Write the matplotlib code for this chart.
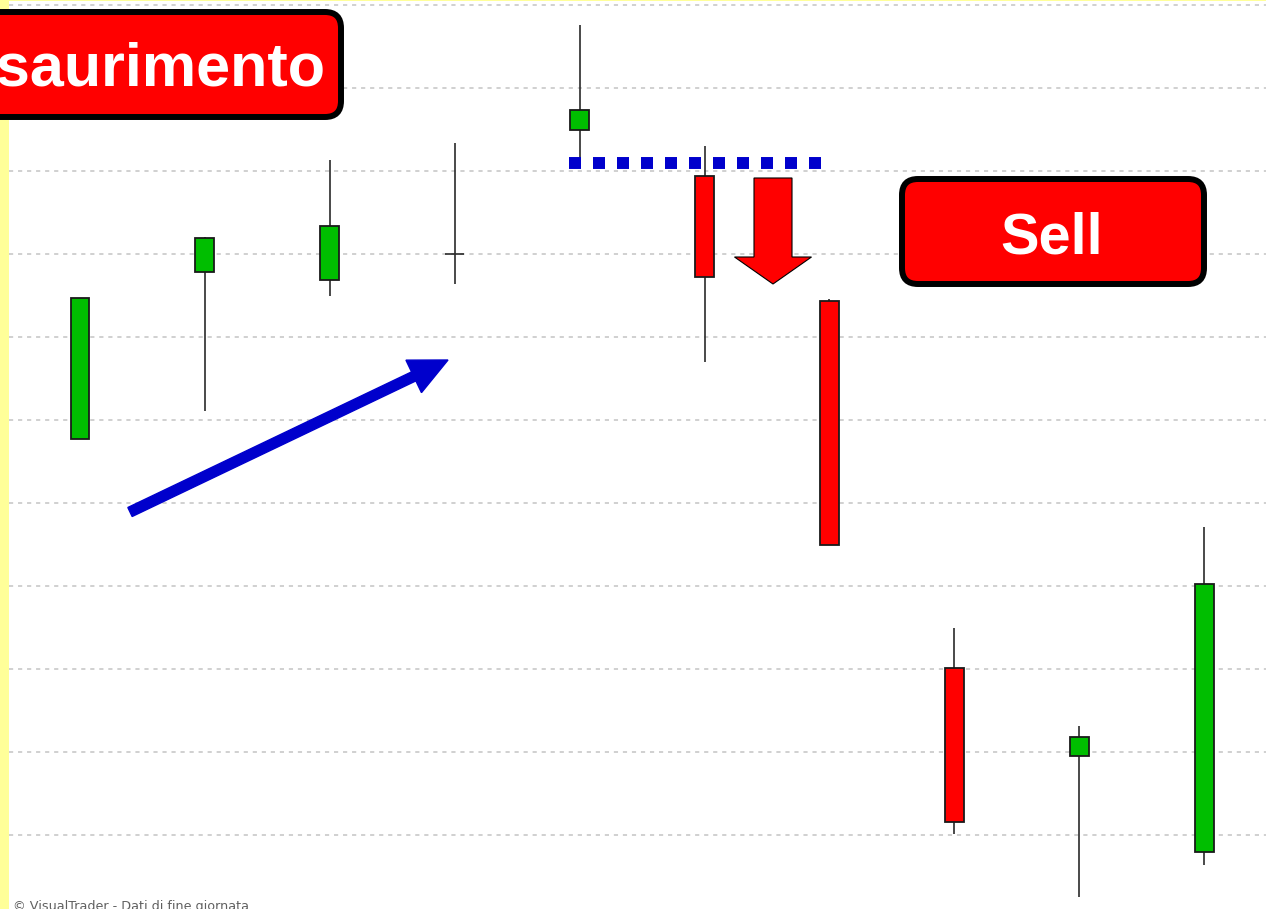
import matplotlib
matplotlib.use("Agg")
import matplotlib.pyplot as plt
from matplotlib.patches import FancyBboxPatch, FancyArrow

plt.rcParams["lines.scale_dashes"] = False
plt.rcParams["font.family"] = ["Liberation Sans", "DejaVu Sans"]

# Dati delle candele (unità = linee della griglia)
giorni = list(range(10))
aperture = [4.77, 6.78, 6.69, 7.00, 8.49, 7.94, 6.43, 2.01, 0.95, -0.20]
chiusure = [6.47, 7.19, 7.34, 7.00, 8.73, 6.72, 3.49, 0.16, 1.18, 3.02]
massimi = [6.47, 7.20, 8.13, 8.34, 9.76, 8.30, 6.46, 2.49, 1.31, 3.71]
minimi = [4.77, 5.11, 6.49, 6.64, 8.07, 5.70, 3.49, 0.01, -0.75, -0.36]
livelli_griglia = list(range(0, 11))
supporto = 8.10  # linea blu tratteggiata sotto la candela 5

VERDE = "#00BE00"
ROSSO = "#FF0000"
BLU = "#0000CC"
GIALLO = "#FFFF99"

W, H = 1266, 909
fig = plt.figure(figsize=(W / 100, H / 100), dpi=100, facecolor=GIALLO)

# area del grafico (striscia gialla a sinistra)
ax = fig.add_axes([9 / W, 0, 1 - 9 / W, 1 - 1 / H])
ax.set_facecolor("white")
ax.set_xlim((9 - 80) / 124.9, (W - 80) / 124.9)
ax.set_ylim((835 - H) / 83, 834 / 83)
for s in ax.spines.values():
    s.set_visible(False)
ax.set_xticks([])
ax.set_yticks(livelli_griglia)
ax.tick_params(left=False, labelleft=False)
ax.grid(axis="y", color="#C8C8C8", linewidth=1.2, linestyle=(0, (3.0, 3.5)))
ax.set_axisbelow(True)

larghezza = 0.152
for g, o, c, hi, lo in zip(giorni, aperture, chiusure, massimi, minimi):
    ax.vlines(g, lo, hi, color="#2A2A2A", linewidth=1.2, zorder=2)
    if o == c:
        ax.hlines(o, g - larghezza / 2, g + larghezza / 2, color="#2A2A2A", linewidth=1.2, zorder=3)
    else:
        colore = VERDE if c > o else ROSSO
        ax.bar(g, c - o, bottom=o, width=larghezza, color=colore,
               edgecolor="#1A1A1A", linewidth=1.3, zorder=3)

# linea di supporto blu a quadratini
ax.hlines(supporto, 4 - 11 / 124.9, 5 + 117 / 124.9, color=BLU, linewidth=8.6,
          linestyle=(0, (8.64, 8.64)), zorder=4)

# livello annotazioni in pixel
ov = fig.add_axes([0, 0, 1, 1])
ov.set_xlim(0, W)
ov.set_ylim(H, 0)
ov.axis("off")
ov.patch.set_alpha(0)

# freccia blu (trend)
ov.add_patch(FancyArrow(130, 512, 318, -152, width=10, head_width=36, head_length=38,
                        length_includes_head=True, color=BLU, zorder=5))

# freccia rossa (vendita)
ov.add_patch(FancyArrow(773, 178, 0, 106, width=38, head_width=77, head_length=27,
                        length_includes_head=True, facecolor=ROSSO, edgecolor="black",
                        linewidth=0.8, zorder=5))

# riquadri rossi
ov.add_patch(FancyBboxPatch((-60, 12), 401, 105, boxstyle="round,pad=0,rounding_size=16",
                            facecolor=ROSSO, edgecolor="black", linewidth=4.3, zorder=6))
ov.text(326, 86, "Esaurimento", ha="right", va="baseline", color="white",
        fontsize=44, fontweight="bold", zorder=7)

ov.add_patch(FancyBboxPatch((902, 179), 302, 105, boxstyle="round,pad=0,rounding_size=16",
                            facecolor=ROSSO, edgecolor="black", linewidth=4.3, zorder=6))
ov.text(1052, 253, "Sell", ha="center", va="baseline", color="white",
        fontsize=41.5, fontweight="bold", zorder=7)

ov.text(13, 910, "© VisualTrader - Dati di fine giornata", ha="left", va="baseline",
        color="#606060", fontsize=9.2, family=["DejaVu Sans"])

fig.savefig("out.png", dpi=100, facecolor=GIALLO)
